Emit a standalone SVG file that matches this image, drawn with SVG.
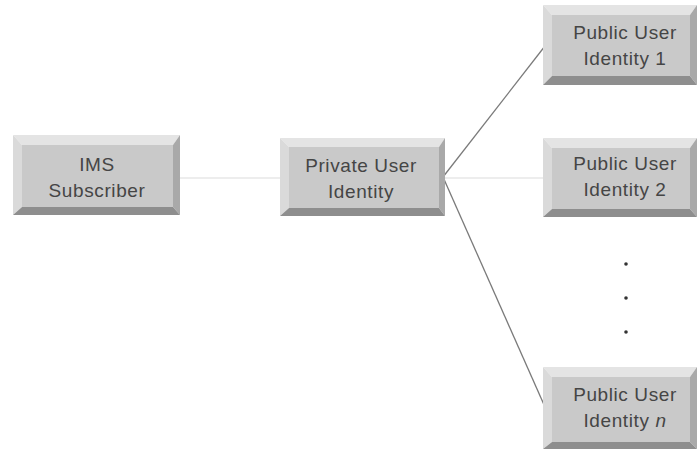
<svg xmlns="http://www.w3.org/2000/svg" width="699" height="449" viewBox="0 0 699 449">
  <style>
    .face { fill: #c9c9c9; }
    .top { fill: #e4e4e4; }
    .left { fill: #dadada; }
    .right { fill: #a9a9a9; }
    .bottom { fill: #8e8e8e; }
    .label { font-family: "Liberation Sans", Arial, sans-serif; font-size: 19px; letter-spacing: 0.6px; fill: #454545; text-anchor: middle; }
    .link { stroke: #dcdcdc; stroke-width: 1.2; fill: none; }
    .diag { stroke: #7a7a7a; stroke-width: 1.3; fill: none; }
    .dot { fill: #333; }
  </style>

  <rect width="699" height="449" fill="#ffffff"/>

  <!-- connectors -->
  <g id="connectors">
    <line class="link" x1="180" y1="178" x2="280" y2="178"/>
    <line class="link" x1="445" y1="178" x2="543" y2="178"/>
    <line class="diag" x1="443" y1="177" x2="545" y2="46"/>
    <line class="diag" x1="443" y1="177" x2="545" y2="407"/>
  </g>

  <!-- IMS Subscriber: outer 13,135 167x80 -->
  <g id="ims-subscriber">
    <polygon class="top" points="13,135 180,135 173,145 22,145"/>
    <polygon class="left" points="13,135 22,145 22,207 13,215"/>
    <polygon class="right" points="180,135 180,215 173,207 173,145"/>
    <polygon class="bottom" points="13,215 22,207 173,207 180,215"/>
    <rect class="face" x="22" y="145" width="151" height="62"/>
    <text class="label" x="97" y="171">IMS</text>
    <text class="label" x="97" y="197">Subscriber</text>
  </g>

  <!-- Private User Identity: outer 280,138 165x78 -->
  <g id="private-user-identity">
    <polygon class="top" points="280,138 445,138 439,147 289,147"/>
    <polygon class="left" points="280,138 289,147 289,208 280,216"/>
    <polygon class="right" points="445,138 445,216 439,208 439,147"/>
    <polygon class="bottom" points="280,216 289,208 439,208 445,216"/>
    <rect class="face" x="289" y="147" width="150" height="61"/>
    <text class="label" x="361" y="172">Private User</text>
    <text class="label" x="361" y="198">Identity</text>
  </g>

  <!-- Public User Identity 1: outer 543,5 154x80 -->
  <g id="public-user-identity-1">
    <polygon class="top" points="543,5 697,5 690,15 552,15"/>
    <polygon class="left" points="543,5 552,15 552,76 543,85"/>
    <polygon class="right" points="697,5 697,85 690,76 690,15"/>
    <polygon class="bottom" points="543,85 552,76 690,76 697,85"/>
    <rect class="face" x="552" y="15" width="138" height="61"/>
    <text class="label" x="625" y="39">Public User</text>
    <text class="label" x="625" y="65">Identity 1</text>
  </g>

  <!-- Public User Identity 2: outer 543,138 154x79 -->
  <g id="public-user-identity-2">
    <polygon class="top" points="543,138 697,138 690,148 552,148"/>
    <polygon class="left" points="543,138 552,148 552,209 543,217"/>
    <polygon class="right" points="697,138 697,217 690,209 690,148"/>
    <polygon class="bottom" points="543,217 552,209 690,209 697,217"/>
    <rect class="face" x="552" y="148" width="138" height="61"/>
    <text class="label" x="625" y="170">Public User</text>
    <text class="label" x="625" y="196">Identity 2</text>
  </g>

  <!-- vertical ellipsis -->
  <g id="ellipsis">
    <circle class="dot" cx="626" cy="264" r="1.8"/>
    <circle class="dot" cx="626" cy="298" r="1.8"/>
    <circle class="dot" cx="626" cy="332" r="1.8"/>
  </g>

  <!-- Public User Identity n: outer 543,367 154x82 -->
  <g id="public-user-identity-n">
    <polygon class="top" points="543,367 697,367 690,377 552,377"/>
    <polygon class="left" points="543,367 552,377 552,442 543,449"/>
    <polygon class="right" points="697,367 697,449 690,442 690,377"/>
    <polygon class="bottom" points="543,449 552,442 690,442 697,449"/>
    <rect class="face" x="552" y="377" width="138" height="65"/>
    <text class="label" x="625" y="401">Public User</text>
    <text class="label" x="625" y="427">Identity <tspan font-style="italic">n</tspan></text>
  </g>
</svg>
